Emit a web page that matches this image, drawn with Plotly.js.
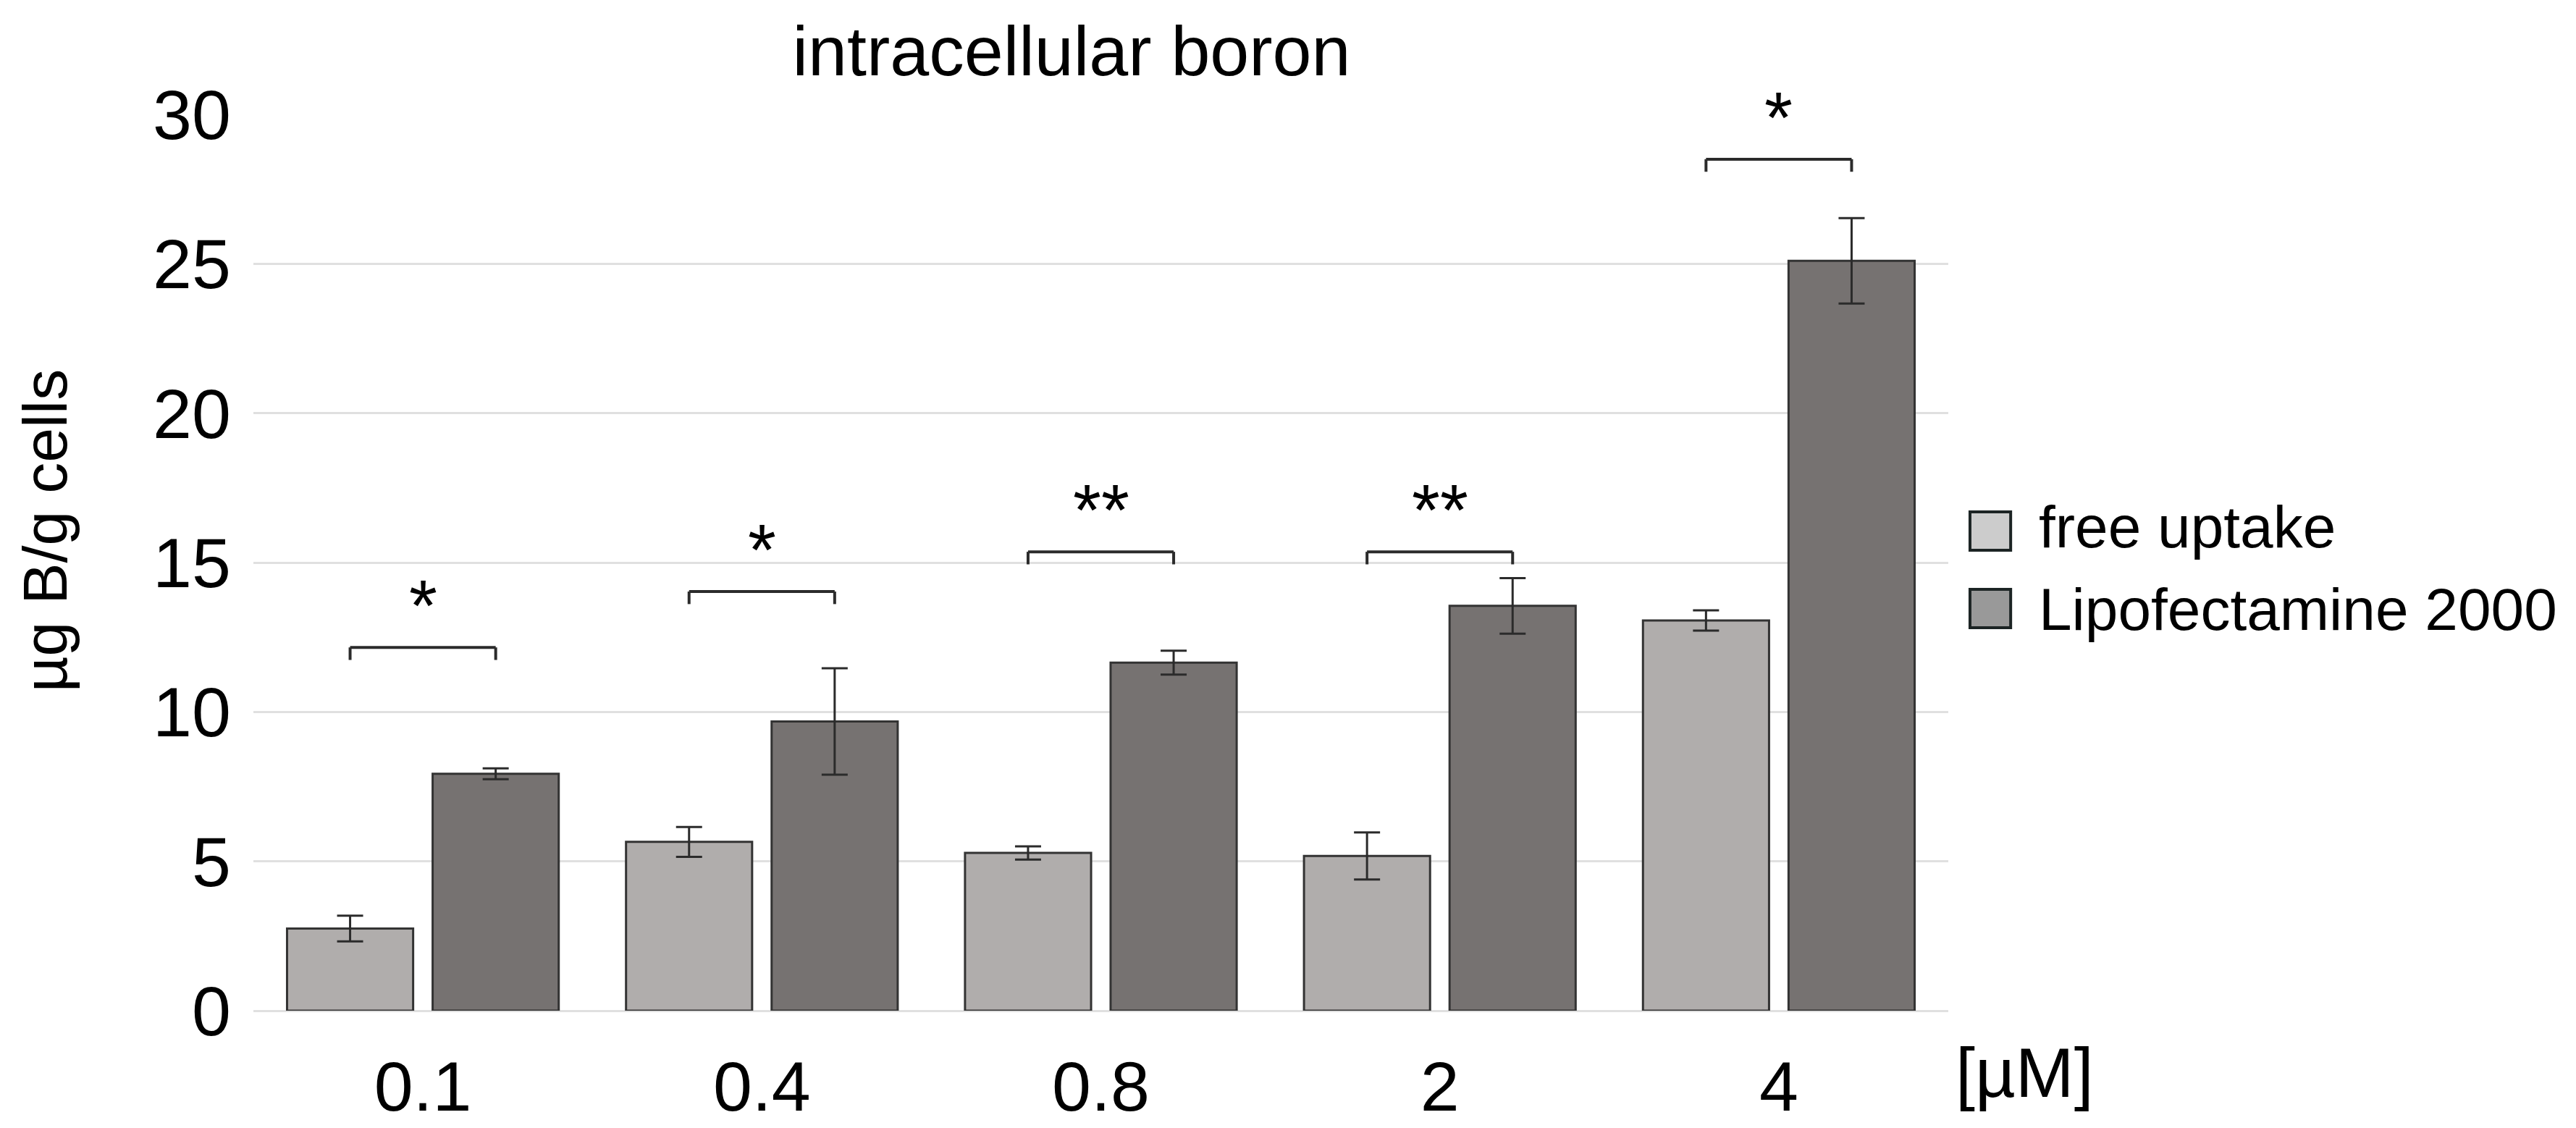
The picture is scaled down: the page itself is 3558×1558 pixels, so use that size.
<!DOCTYPE html>
<html>
<head>
<meta charset="utf-8">
<script src="https://cdn.plot.ly/plotly-3.0.1.min.js"></script>
<style>
  html, body { margin: 0; padding: 0; background: #ffffff; }
  #chart { width: 3558px; height: 1558px; }
</style>
</head>
<body>
<div id="chart"></div>
<script>
// ---- data ----
const categories = ['0.1', '0.4', '0.8', '2', '4'];
const freeUptake = [2.75, 5.65, 5.28, 5.18, 13.06];
const freeUptakeErr = [0.43, 0.5, 0.22, 0.79, 0.34];
const lipofectamine = [7.93, 9.68, 11.65, 13.55, 25.1];
const lipofectamineErr = [0.18, 1.78, 0.4, 0.93, 1.43];
const bracketY = [12.16, 14.03, 15.36, 15.36, 28.5];
const stars = ['*', '*', '**', '**', '*'];
const seriesNames = ['free uptake', 'Lipofectamine 2000'];
const yTicks = [0, 5, 10, 15, 20, 25, 30];

// ---- style ----
const FONT = '"Liberation Sans", Arial, Helvetica, sans-serif';
const BARGAP = 0.141;
const BARGROUPGAP = 0.134;
const slot = (1 - BARGAP) / 2;
const off = slot / 2;
const tickLen = 0.42;
const lineColor = '#2b2b2b';

const traces = [
  {
    type: 'bar', name: seriesNames[0], x: categories, y: freeUptake,
    marker: { color: '#b0adac', line: { color: '#333333', width: 3 } },
    error_y: { type: 'data', array: freeUptakeErr, visible: true, color: lineColor, thickness: 3, width: 18 },
    showlegend: false
  },
  {
    type: 'bar', name: seriesNames[1], x: categories, y: lipofectamine,
    marker: { color: '#767271', line: { color: '#333333', width: 3 } },
    error_y: { type: 'data', array: lipofectamineErr, visible: true, color: lineColor, thickness: 3, width: 18 },
    showlegend: false
  }
];

const shapes = [];
const annotations = [];
categories.forEach((c, i) => {
  const y = bracketY[i];
  const l = { color: lineColor, width: 4 };
  shapes.push({ type: 'line', xref: 'x', yref: 'y', x0: i - off, x1: i + off, y0: y, y1: y, line: l });
  shapes.push({ type: 'line', xref: 'x', yref: 'y', x0: i - off, x1: i - off, y0: y, y1: y - tickLen, line: l });
  shapes.push({ type: 'line', xref: 'x', yref: 'y', x0: i + off, x1: i + off, y0: y, y1: y - tickLen, line: l });
  annotations.push({
    xref: 'x', yref: 'y', x: i, y: y, yanchor: 'bottom', xanchor: 'center',
    text: stars[i], showarrow: false, font: { family: FONT, size: 100, color: '#000' }
  });
});

// manual legend (large swatches as in the reference)
const legendColors = ['#cccccc', '#999999'];
const legendSw = [[0.5137, 0.5565], [0.4273, 0.4701]];
const legendTextY = [0.5396, 0.4483];
seriesNames.forEach((n, i) => {
  shapes.push({
    type: 'rect', xref: 'paper', yref: 'paper', x0: 1.0128, x1: 1.0368,
    y0: legendSw[i][0], y1: legendSw[i][1],
    fillcolor: legendColors[i], line: { color: '#1c2424', width: 4 }
  });
  annotations.push({
    xref: 'paper', yref: 'paper', x: 1.0525, y: legendTextY[i], xanchor: 'left', yanchor: 'middle',
    text: n, showarrow: false, font: { family: FONT, size: 82, color: '#000' }
  });
});

// unit label and y title
annotations.push({
  xref: 'paper', yref: 'paper', x: 1.0034, y: -0.0687, xanchor: 'left', yanchor: 'middle',
  text: '[µM]', showarrow: false, font: { family: FONT, size: 97, color: '#000' }
});
annotations.push({
  xref: 'paper', yref: 'paper', x: -0.123, y: 0.5355, xanchor: 'center', yanchor: 'middle',
  textangle: -90, text: 'µg B/g cells', showarrow: false, font: { family: FONT, size: 86, color: '#000' }
});

const layout = {
  width: 3558, height: 1558,
  margin: { l: 350, r: 867, t: 158, b: 162, pad: 0 },
  paper_bgcolor: '#ffffff', plot_bgcolor: '#ffffff',
  font: { family: FONT, color: '#000' },
  title: {
    text: 'intracellular boron', xref: 'paper', x: 0.4827, xanchor: 'center',
    yref: 'container', y: 0.977, yanchor: 'top',
    font: { family: FONT, size: 97, color: '#000' }
  },
  barmode: 'group', bargap: BARGAP, bargroupgap: BARGROUPGAP,
  showlegend: false,
  xaxis: {
    type: 'category', categoryorder: 'array', categoryarray: categories,
    showgrid: false, showline: false, zeroline: false, ticks: '',
    ticklabelstandoff: 40,
    tickfont: { family: FONT, size: 97, color: '#000' }
  },
  yaxis: {
    range: [0, 30], tickvals: yTicks, ticktext: yTicks.map(String),
    showgrid: true, gridcolor: '#e0e0e0', gridwidth: 3,
    zeroline: true, zerolinecolor: '#e0e0e0', zerolinewidth: 3,
    showline: false, ticks: '', ticklabelstandoff: 30,
    tickfont: { family: FONT, size: 97, color: '#000' }
  },
  shapes: shapes,
  annotations: annotations
};

Plotly.newPlot('chart', traces, layout, { displayModeBar: false, staticPlot: true });
</script>
</body>
</html>
